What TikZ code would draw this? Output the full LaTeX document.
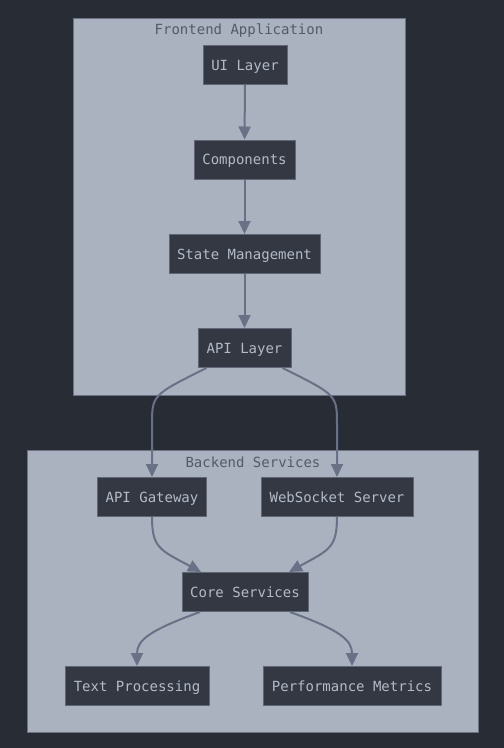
\documentclass[tikz,border=0pt]{standalone}
\usepackage{fontspec}
\setmonofont{DejaVu Sans Mono}
\usetikzlibrary{arrows.meta}
\definecolor{bgc}{HTML}{282C34}
\definecolor{clfill}{HTML}{ABB2BF}
\definecolor{clline}{HTML}{6B7283}
\definecolor{ndfill}{HTML}{333842}
\definecolor{ndline}{HTML}{5F6675}
\definecolor{ndtext}{HTML}{B4BBC8}
\definecolor{cltext}{HTML}{545A68}
\definecolor{edgec}{HTML}{687186}
\tikzset{
  cluster/.style={draw=clline, fill=clfill, line width=1pt},
  cltitle/.style={text=cltext, font=\ttfamily\fontsize{14}{16}\selectfont, inner sep=0pt, text height=10pt, text depth=3pt},
  box/.style={draw=ndline, fill=ndfill, line width=1pt, text=ndtext,
    font=\ttfamily\fontsize{14}{16}\selectfont, minimum height=39pt, inner sep=0pt,
    text height=11.5pt, text depth=1.5pt, anchor=center},
  edge/.style={draw=edgec, line width=2pt, -{Triangle[length=13pt,width=12pt]}},
}
\begin{document}
\begin{tikzpicture}[x=1pt,y=-1pt]
\fill[bgc] (0,0) rectangle (504,748);
\useasboundingbox (0,0) rectangle (504,748);
% clusters
\draw[cluster] (73,18) rectangle (405,395);
\node[cltitle] (tf) at (239,30.5) {Frontend Application};
\draw[cluster] (27,450) rectangle (478,732);
\node[cltitle] (tb) at (253,463.5) {Backend Services};
% nodes
\node[box, minimum width=84pt] (ui) at (245,65) {UI Layer};
\node[box, minimum width=101pt] (comp) at (244.5,159.5) {Components};
\node[box, minimum width=151pt] (state) at (244.5,254) {State Management};
\node[box, minimum width=93pt] (apil) at (244.5,348) {API Layer};
\node[box, minimum width=109pt] (gw) at (152,497) {API Gateway};
\node[box, minimum width=152pt] (ws) at (337,497) {WebSocket Server};
\node[box, minimum width=126pt] (core) at (245,592) {Core Services};
\node[box, minimum width=144pt] (tp) at (137,686) {Text Processing};
\node[box, minimum width=178pt] (pm) at (352,686) {Performance Metrics};
% edges
\draw[edge] (ui) -- (comp);
\draw[edge] (comp) -- (state);
\draw[edge] (state) -- (apil);
\draw[edge] ([xshift=-38pt]apil.south) .. controls (152,395) and (152,395) .. (152,425) -- (gw.north);
\draw[edge] ([xshift=38pt]apil.south) .. controls (337,395) and (337,395) .. (337,425) -- (ws.north);
\draw[edge] (gw.south) .. controls (152,548) and (160,550) .. ([xshift=-44pt]core.north);
\draw[edge] (ws.south) .. controls (337,548) and (329,550) .. ([xshift=44pt]core.north);
\draw[edge] ([xshift=-45pt]core.south) .. controls (150,630) and (137,640) .. (tp.north);
\draw[edge] ([xshift=45pt]core.south) .. controls (340,630) and (352,640) .. (pm.north);
\end{tikzpicture}
\end{document}
